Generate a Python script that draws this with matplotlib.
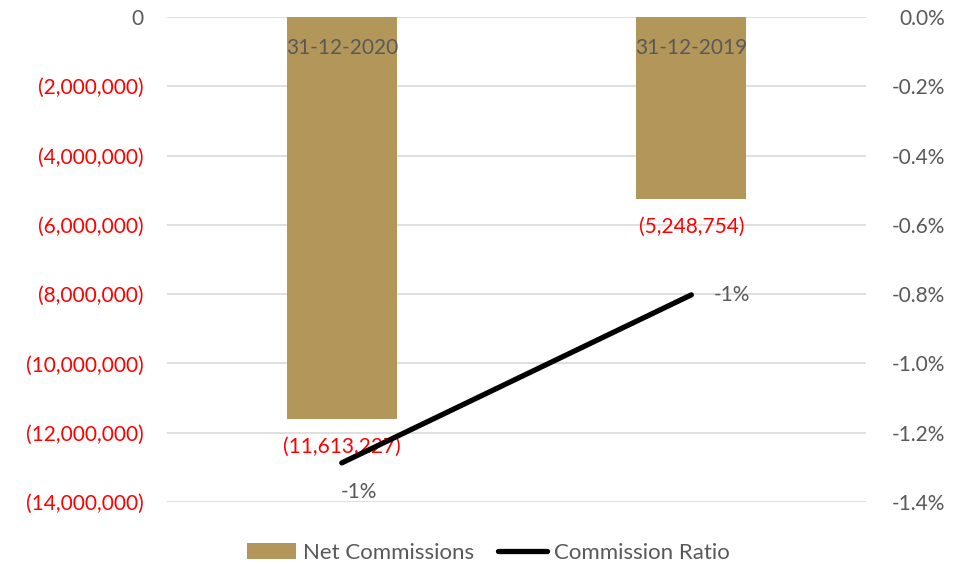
import numpy as np
import matplotlib.pyplot as plt
from matplotlib.ticker import FuncFormatter
from matplotlib.lines import Line2D
from matplotlib.patches import Patch

plt.rcParams['font.family'] = ['Lato', 'DejaVu Sans']

# data
dates = ['31-12-2020', '31-12-2019']
net_commissions = [-11613227, -5248754]
commission_ratio = [-0.01287, -0.00802]   # fractions
left_ticks = np.arange(0, -14000001, -2000000)
right_ticks = np.arange(0, -0.01401, -0.002)

bar_col = '#B3975A'
grey = '#595959'
red = '#FF0000'
fs = 15

fig = plt.figure(figsize=(9.71, 5.66), dpi=100)
ax = fig.add_axes([0.172, 0.113, 0.720, 0.857])
ax2 = ax.twinx()

x = np.arange(len(dates))
ax.bar(x, net_commissions, width=0.315, color=bar_col, zorder=2)
ax.set_xlim(-0.5, len(dates) - 0.5)
ax.set_ylim(-14000000, 0)
ax.set_yticks(left_ticks)
ax.yaxis.set_major_formatter(FuncFormatter(
    lambda v, p: '0' if v == 0 else '({:,.0f})'.format(abs(v))))
ax.tick_params(axis='y', length=0, pad=17, labelsize=fs)
for lab, v in zip(ax.get_yticklabels(), left_ticks):
    lab.set_color(grey if v == 0 else red)
ax.set_xticks([])
ax.grid(axis='y', color='#D9D9D9', linewidth=1.2, zorder=0)
ax.set_axisbelow(True)
for s in ax.spines.values():
    s.set_visible(False)

# category labels sit just under the zero line
for xi, d in zip(x, dates):
    ax.annotate(d, (xi, 0), xytext=(0, -22), textcoords='offset points',
                ha='center', va='center', color=grey, fontsize=fs, zorder=3)

# bar value labels
for xi, v in zip(x, net_commissions):
    ax.annotate('({:,.0f})'.format(abs(v)), (xi, v), xytext=(0, -20),
                textcoords='offset points', ha='center', va='center',
                color=red, fontsize=fs, zorder=3)

ax2.plot(x, commission_ratio, color='black', linewidth=3.8,
         solid_capstyle='round', zorder=4)
ax2.set_ylim(-0.014, 0)
ax2.set_yticks(right_ticks)
ax2.yaxis.set_major_formatter(FuncFormatter(
    lambda v, p: '{:.1f}%'.format(v * 100 + 0.0)))
ax2.tick_params(axis='y', length=0, pad=57, labelsize=fs, labelcolor=grey)
for lab in ax2.get_yticklabels():
    lab.set_horizontalalignment('right')
for s in ax2.spines.values():
    s.set_visible(False)

offsets = [(12, -21), (29, 0)]
for xi, v, off in zip(x, commission_ratio, offsets):
    ax2.annotate('{:.0f}%'.format(v * 100), (xi, v), xytext=off,
                 textcoords='offset points', ha='center', va='center',
                 color=grey, fontsize=fs, zorder=5)

handles = [Patch(facecolor=bar_col, edgecolor='none', label='Net Commissions'),
           Line2D([0], [0], color='black', linewidth=3.8,
                  solid_capstyle='round', label='Commission Ratio')]
leg = fig.legend(handles=handles, loc='center', bbox_to_anchor=(0.503, 0.023),
                 ncol=2, frameon=False, fontsize=16, handlelength=2.2,
                 handletextpad=0.3, columnspacing=1.1)
for t in leg.get_texts():
    t.set_color(grey)

fig.savefig('out.png', dpi=100)
